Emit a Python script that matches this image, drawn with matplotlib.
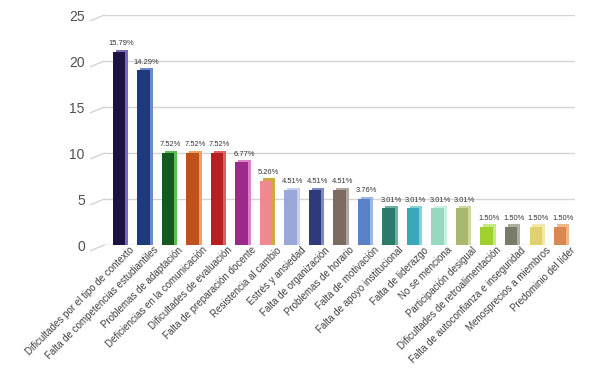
import matplotlib

matplotlib.use("Agg")
import matplotlib.pyplot as plt
import numpy as np

categories = [
    "Dificultades por el tipo de contexto",
    "Falta de competencias estudiantiles",
    "Problemas de adaptación",
    "Deficiencias en la comunicación",
    "Dificultades de evaluación",
    "Falta de preparación docente",
    "Resistencia al cambio",
    "Estrés y ansiedad",
    "Falta de organización",
    "Problemas de horario",
    "Falta de motivación",
    "Falta de apoyo institucional",
    "Falta de liderazgo",
    "No se menciona",
    "Participación desigual",
    "Dificultades de retroalimentación",
    "Falta de autoconfianza e inseguridad",
    "Menosprecios a miembros",
    "Predominio del líder",
]
counts = [21, 19, 10, 10, 10, 9, 7, 6, 6, 6, 5, 4, 4, 4, 4, 2, 2, 2, 2]
pct_labels = ["15.79%", "14.29%", "7.52%", "7.52%", "7.52%", "6.77%", "5.26%",
              "4.51%", "4.51%", "4.51%", "3.76%", "3.01%", "3.01%", "3.01%",
              "3.01%", "1.50%", "1.50%", "1.50%", "1.50%"]
front_colors = ["#1E1245", "#1F3A7A", "#145A1E", "#C0501E", "#B82020", "#9B2A8A",
                "#F08890", "#9AA8D8", "#2E3A7A", "#7A6A62", "#5A80C8", "#2E7A6A",
                "#3AA8B8", "#98D8C0", "#A8B870", "#A0D030", "#7A7A6A", "#E0D070",
                "#D88850"]
side_colors = ["#7A6AB8", "#6A8AD0", "#5AC050", "#F0A060", "#E06060", "#D880C8",
               "#D0A840", "#C8D0F0", "#7A88C8", "#B0A8A0", "#98B8E8", "#70B0A0",
               "#88D0D8", "#C8F0E0", "#D0D8A0", "#C8E880", "#B0B0A0", "#F0E8A8",
               "#F0B888"]

plt.rcParams["font.family"] = ["Liberation Sans", "DejaVu Sans"]

x = np.arange(len(categories))

fig = plt.figure(figsize=(5.89, 3.68), dpi=100)
ax = fig.add_axes([0.177, 0.334, 0.799, 0.625])

# grid lines with a slanted "wall" stub on the left
for v in range(0, 26, 5):
    ax.plot([-0.6, 18.9], [v, v], color="#D4D4D4", lw=1.0, zorder=0)
    ax.plot([-1.15, -0.6], [v - 0.6, v], color="#D4D4D4", lw=1.0, zorder=0, clip_on=False)

w = 0.5
# side / back part for a pseudo-3D look
ax.bar(x + 0.12, counts, width=w, bottom=0.0, color=side_colors, zorder=2)
ax.bar(x + 0.12, [0.25] * len(x), width=w, bottom=counts, color=side_colors, zorder=2)
ax.bar(x, counts, width=w, color=front_colors, zorder=3)

for xi, c, lab in zip(x, counts, pct_labels):
    ax.text(xi + 0.1, c + 0.5, lab, ha="center", va="bottom", fontsize=5.4, color="#333333")

ax.set_xlim(-0.6, 18.6)
ax.set_ylim(0, 25)
ax.set_yticks(range(0, 26, 5))
ax.tick_params(axis="y", length=0, pad=14, labelsize=10, labelcolor="#505050")
ax.tick_params(axis="x", length=0, pad=0)
ax.set_xticks(x + 0.4)
ax.set_xticklabels(categories, rotation=45, ha="right", rotation_mode="anchor",
                   fontsize=7.0, color="#404040")
for s in ax.spines.values():
    s.set_visible(False)

fig.savefig("out.png", dpi=100)
